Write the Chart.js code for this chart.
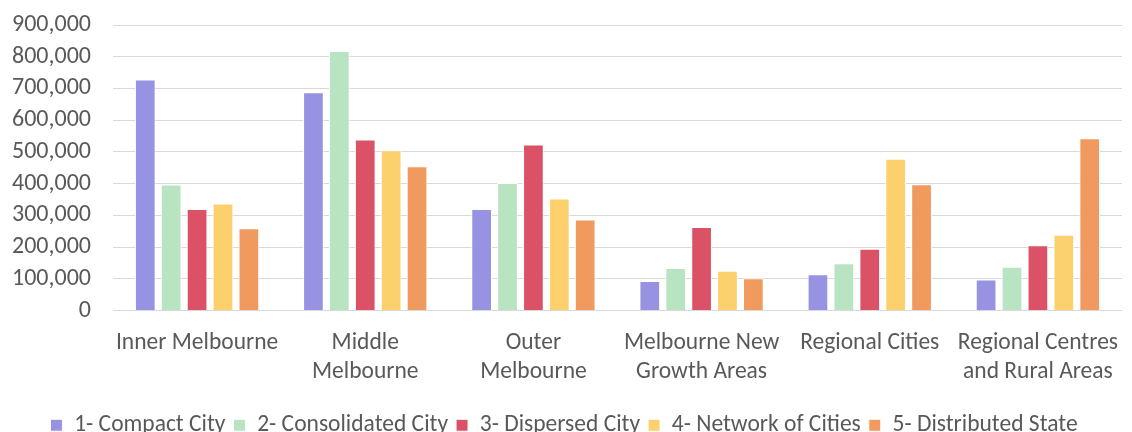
<!DOCTYPE html>
<html>
<head>
<meta charset="utf-8">
<script src="https://cdn.jsdelivr.net/npm/chart.js@4/dist/chart.umd.min.js"></script>
<style>
  html, body { margin: 0; padding: 0; background: #fff; overflow: hidden; }
  #wrap { width: 1132px; height: 447px; position: relative; }
</style>
</head>
<body>
<div id="wrap"><canvas id="scenarios"></canvas></div>
<script>
// Population by region under each growth scenario
const REGIONS = [
  'Inner Melbourne',
  ['Middle', 'Melbourne'],
  ['Outer', 'Melbourne'],
  ['Melbourne New', 'Growth Areas'],
  'Regional Cities',
  ['Regional Centres', 'and Rural Areas'],
];

const compactCity      = [728000, 688000, 320000,  93000, 114000,  98000];
const consolidatedCity = [397000, 818000, 402000, 134000, 149000, 138000];
const dispersedCity    = [320000, 539000, 523000, 263000, 195000, 206000];
const networkOfCities  = [337000, 505000, 353000, 125000, 478000, 239000];
const distributedState = [259000, 455000, 287000, 102000, 398000, 543000];

const SERIES_LABELS = [
  '1- Compact City',
  '2- Consolidated City',
  '3- Dispersed City',
  '4- Network of Cities',
  '5- Distributed State',
];

const Y_MAX  = 900000;
const Y_STEP = 100000;

const COLORS = ['#9792E2', '#B9E4C1', '#DB5166', '#FCD06C', '#F09A60'];
const FONT   = "Carlito, 'Liberation Sans Narrow', 'Open Sans', sans-serif";
const GREY   = '#595959';

function barDS(label, data, color) {
  return {
    label, data,
    backgroundColor: color,
    borderColor: '#FFFFFF',
    borderWidth: 1,
    barPercentage: 0.8,
    categoryPercentage: 0.77,
  };
}

const values = [compactCity, consolidatedCity, dispersedCity, networkOfCities, distributedState];

new Chart(document.getElementById('scenarios'), {
  type: 'bar',
  data: {
    labels: REGIONS,
    datasets: values.map((d, i) => barDS(SERIES_LABELS[i], d, COLORS[i])),
  },
  options: {
    responsive: true,
    maintainAspectRatio: false,
    animation: false,
    layout: { padding: { top: 0, right: 10, left: 6, bottom: 0 } },
    plugins: {
      tooltip: { enabled: false },
      legend: {
        position: 'bottom',
        labels: {
          color: GREY,
          font: { family: FONT, size: 23.5 },
          boxWidth: 12,
          boxHeight: 12,
          padding: 8,
        },
      },
    },
    scales: {
      x: {
        grid: { display: false },
        border: { display: false },
        afterFit: s => { s.height = 95; },
        ticks: {
          color: GREY,
          font: { family: FONT, size: 23.5, lineHeight: 1.2 },
          maxRotation: 0,
          autoSkip: false,
          padding: 11,
        },
      },
      y: {
        min: 0,
        max: Y_MAX,
        border: { display: false },
        grid: { color: '#D9D9D9', lineWidth: 1, drawTicks: false },
        // fixed gutter for the tick labels, and only half a label of room above the top line
        afterFit: s => { s.width = 107; s.paddingTop = 25; s.paddingBottom = 14; },
        ticks: {
          stepSize: Y_STEP,
          autoSkip: false,
          color: GREY,
          font: { family: FONT, size: 24 },
          padding: 22,
          callback: v => v.toLocaleString('en-US'),
        },
      },
    },
  },
});
</script>
</body>
</html>
